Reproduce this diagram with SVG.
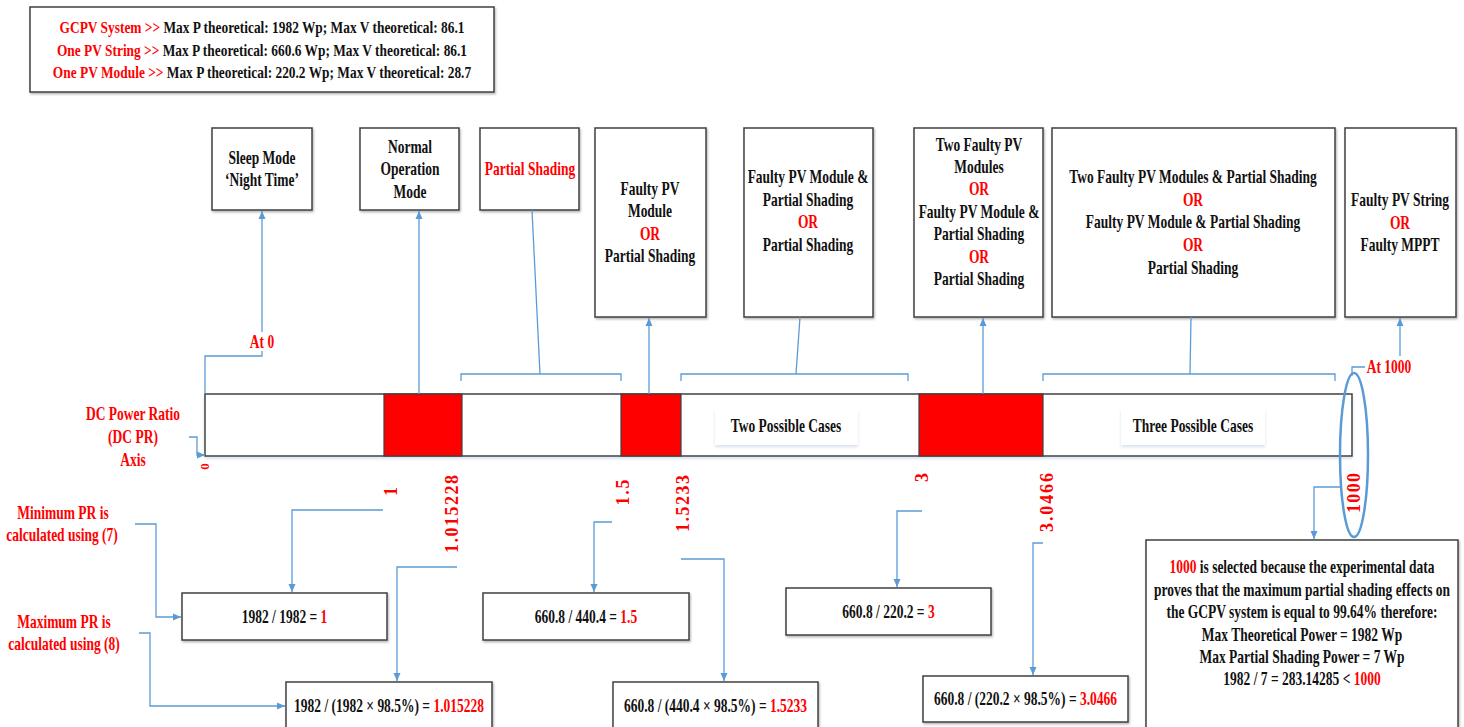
<svg xmlns="http://www.w3.org/2000/svg" width="1464" height="727" viewBox="0 0 1464 727">
<defs>
<style>
.box{fill:#fff;stroke:#404040;stroke-width:1.5;filter:url(#sh)}
.lbl{fill:#fff;stroke:none;filter:url(#soft)}
.blk{fill:#ff0000;stroke:#404040;stroke-width:1.2}
.t{font-family:"Liberation Serif","Times New Roman",serif;font-weight:bold;font-size:18px;fill:#111;text-anchor:middle}
.s{font-size:17.5px}
.r{fill:#ff0000}
.n{font-family:"Liberation Serif","Times New Roman",serif;font-weight:bold;font-size:18px;fill:#ff0000;text-anchor:middle}
.c{fill:none;stroke:#5B9BD5;stroke-width:1.3}
.a{marker-end:url(#ah)}
</style>
<marker id="ah" markerUnits="userSpaceOnUse" markerWidth="9" markerHeight="8" refX="8" refY="4" orient="auto"><path d="M0,0.5 L8,4 L0,7.5z" fill="#5B9BD5"/></marker>
<filter id="sh" x="-5%" y="-5%" width="115%" height="130%"><feDropShadow dx="1" dy="1.5" stdDeviation="1" flood-color="#000" flood-opacity="0.3"/></filter>
<filter id="soft" x="-10%" y="-20%" width="120%" height="160%"><feDropShadow dx="0" dy="2" stdDeviation="1.5" flood-color="#8ea9c8" flood-opacity="0.35"/></filter>
</defs>

<!-- system ratings -->
<g id="ratings">
<rect class="box" x="30" y="7" width="464" height="85"/>
<text class="t s" transform="matrix(0.765 0 0 1 262 0)" y="33.5"><tspan class="r">GCPV System &gt;&gt;</tspan> Max P theoretical: 1982 Wp; Max V theoretical: 86.1</text>
<text class="t s" transform="matrix(0.765 0 0 1 262 0)" y="56"><tspan class="r">One PV String &gt;&gt;</tspan> Max P theoretical: 660.6 Wp; Max V theoretical: 86.1</text>
<text class="t s" transform="matrix(0.765 0 0 1 262 0)" y="78.5"><tspan class="r">One PV Module &gt;&gt;</tspan> Max P theoretical: 220.2 Wp; Max V theoretical: 28.7</text>
</g>

<!-- operating states -->
<g id="sleep">
<rect class="box" x="212" y="128" width="100" height="82"/>
<text class="t" transform="matrix(0.75 0 0 1 262 0)" y="164">Sleep Mode</text>
<text class="t" transform="matrix(0.75 0 0 1 262 0)" y="186.5">‘Night Time’</text>
</g>
<g id="normal">
<rect class="box" x="360" y="128" width="99" height="82"/>
<text class="t" transform="matrix(0.75 0 0 1 410 0)" y="153">Normal</text>
<text class="t" transform="matrix(0.75 0 0 1 410 0)" y="175.5">Operation</text>
<text class="t" transform="matrix(0.75 0 0 1 410 0)" y="198">Mode</text>
</g>
<g id="partial">
<rect class="box" x="480" y="128" width="99" height="82"/>
<text class="t r" transform="matrix(0.75 0 0 1 530 0)" y="175.5">Partial Shading</text>
</g>
<g id="faulty-module">
<rect class="box" x="595" y="128" width="111" height="189"/>
<text class="t" transform="matrix(0.75 0 0 1 650 0)" y="195">Faulty PV</text>
<text class="t" transform="matrix(0.75 0 0 1 650 0)" y="217.5">Module</text>
<text class="t r" transform="matrix(0.75 0 0 1 650 0)" y="240">OR</text>
<text class="t" transform="matrix(0.75 0 0 1 650 0)" y="262.5">Partial Shading</text>
</g>
<g id="module-and-shading">
<rect class="box" x="744" y="128" width="129" height="189"/>
<text class="t" transform="matrix(0.75 0 0 1 808 0)" y="183">Faulty PV Module &amp;</text>
<text class="t" transform="matrix(0.75 0 0 1 808 0)" y="206">Partial Shading</text>
<text class="t r" transform="matrix(0.75 0 0 1 808 0)" y="228.5">OR</text>
<text class="t" transform="matrix(0.75 0 0 1 808 0)" y="251">Partial Shading</text>
</g>
<g id="two-modules">
<rect class="box" x="914" y="128" width="129" height="189"/>
<text class="t" transform="matrix(0.75 0 0 1 979 0)" y="151">Two Faulty PV</text>
<text class="t" transform="matrix(0.75 0 0 1 979 0)" y="173">Modules</text>
<text class="t r" transform="matrix(0.75 0 0 1 979 0)" y="195.5">OR</text>
<text class="t" transform="matrix(0.75 0 0 1 979 0)" y="218">Faulty PV Module &amp;</text>
<text class="t" transform="matrix(0.75 0 0 1 979 0)" y="240.5">Partial Shading</text>
<text class="t r" transform="matrix(0.75 0 0 1 979 0)" y="263">OR</text>
<text class="t" transform="matrix(0.75 0 0 1 979 0)" y="285.5">Partial Shading</text>
</g>
<g id="three-cases">
<rect class="box" x="1052" y="128" width="283" height="189"/>
<text class="t" transform="matrix(0.75 0 0 1 1193 0)" y="183">Two Faulty PV Modules &amp; Partial Shading</text>
<text class="t r" transform="matrix(0.75 0 0 1 1193 0)" y="206">OR</text>
<text class="t" transform="matrix(0.75 0 0 1 1193 0)" y="228.5">Faulty PV Module &amp; Partial Shading</text>
<text class="t r" transform="matrix(0.75 0 0 1 1193 0)" y="251.5">OR</text>
<text class="t" transform="matrix(0.75 0 0 1 1193 0)" y="274">Partial Shading</text>
</g>
<g id="string-mppt">
<rect class="box" x="1345" y="128" width="111" height="189"/>
<text class="t" transform="matrix(0.75 0 0 1 1400 0)" y="206">Faulty PV String</text>
<text class="t r" transform="matrix(0.75 0 0 1 1400 0)" y="229">OR</text>
<text class="t" transform="matrix(0.75 0 0 1 1400 0)" y="251.5">Faulty MPPT</text>
</g>

<!-- DC power ratio axis -->
<g id="axis">
<rect x="205" y="394" width="1147" height="62" fill="#fff" stroke="#404040" stroke-width="1.5" filter="url(#soft)"/>
<rect class="blk" x="384" y="394" width="78" height="62"/>
<rect class="blk" x="621" y="394" width="60" height="62"/>
<rect class="blk" x="919" y="394" width="124" height="62"/>
<rect class="lbl" x="715" y="409" width="143" height="36"/>
<text class="t" transform="matrix(0.75 0 0 1 786 0)" y="432">Two Possible Cases</text>
<rect class="lbl" x="1121" y="409" width="144" height="36"/>
<text class="t" transform="matrix(0.75 0 0 1 1193 0)" y="432">Three Possible Cases</text>
<ellipse cx="1354" cy="455" rx="14" ry="82" fill="none" stroke="#5B9BD5" stroke-width="2.5"/>
</g>
<g id="axis-title">
<text class="t r" transform="matrix(0.75 0 0 1 133 0)" y="420">DC Power Ratio</text>
<text class="t r" transform="matrix(0.75 0 0 1 133 0)" y="443">(DC PR)</text>
<text class="t r" transform="matrix(0.75 0 0 1 133 0)" y="466">Axis</text>
</g>
<g id="labels">
<text class="t r" transform="matrix(0.75 0 0 1 262 0)" y="348">At 0</text>
<text class="t r" transform="matrix(0.75 0 0 1 1389 0)" y="373">At 1000</text>
</g>

<!-- ratio values along the axis -->
<g id="ticks">
<text class="n" style="font-size:13px" transform="translate(209 466.5) rotate(-90)">0</text>
<text class="n" transform="translate(396.5 491.5) rotate(-90)">1</text>
<text class="n" transform="translate(457.5 514) rotate(-90)" textLength="78" lengthAdjust="spacing">1.015228</text>
<text class="n" transform="translate(628.5 492.5) rotate(-90)" textLength="26" lengthAdjust="spacing">1.5</text>
<text class="n" transform="translate(688.5 503.5) rotate(-90)" textLength="57" lengthAdjust="spacing">1.5233</text>
<text class="n" transform="translate(927.5 477.5) rotate(-90)">3</text>
<text class="n" transform="translate(1052.5 502.5) rotate(-90)" textLength="59" lengthAdjust="spacing">3.0466</text>
<text class="n" transform="translate(1359.5 493) rotate(-90)" textLength="40" lengthAdjust="spacing">1000</text>
</g>

<!-- equation notes -->
<g id="min-note">
<text class="t r" transform="matrix(0.75 0 0 1 63 0)" y="519">Minimum PR is</text>
<text class="t r" transform="matrix(0.75 0 0 1 62 0)" y="541">calculated using (7)</text>
</g>
<g id="max-note">
<text class="t r" transform="matrix(0.75 0 0 1 64 0)" y="628">Maximum PR is</text>
<text class="t r" transform="matrix(0.75 0 0 1 64 0)" y="650">calculated using (8)</text>
</g>

<!-- ratio calculations -->
<g id="calc-1">
<rect class="box" x="182" y="593" width="205" height="47"/>
<text class="t" transform="matrix(0.75 0 0 1 284.5 0)" y="623">1982 / 1982 = <tspan class="r">1</tspan></text>
</g>
<g id="calc-1015228">
<rect class="box" x="286" y="682" width="206" height="52"/>
<text class="t" transform="matrix(0.75 0 0 1 389 0)" y="712">1982 / (1982 × 98.5%)  = <tspan class="r">1.015228</tspan></text>
</g>
<g id="calc-15">
<rect class="box" x="483" y="593" width="206" height="47"/>
<text class="t" transform="matrix(0.75 0 0 1 586 0)" y="623">660.8 / 440.4  = <tspan class="r">1.5</tspan></text>
</g>
<g id="calc-15233">
<rect class="box" x="613" y="682" width="205" height="52"/>
<text class="t" transform="matrix(0.75 0 0 1 715.5 0)" y="712">660.8 / (440.4 × 98.5%)  = <tspan class="r">1.5233</tspan></text>
</g>
<g id="calc-3">
<rect class="box" x="786" y="588" width="205" height="47"/>
<text class="t" transform="matrix(0.75 0 0 1 888.5 0)" y="618">660.8 / 220.2  = <tspan class="r">3</tspan></text>
</g>
<g id="calc-30466">
<rect class="box" x="923" y="676" width="205" height="46"/>
<text class="t" transform="matrix(0.75 0 0 1 1025.5 0)" y="705">660.8 / (220.2 × 98.5%)  = <tspan class="r">3.0466</tspan></text>
</g>
<g id="calc-1000">
<rect class="box" x="1146" y="540" width="312" height="195"/>
<text class="t" transform="matrix(0.75 0 0 1 1302 0)" y="573"><tspan class="r">1000</tspan> is selected because the experimental data</text>
<text class="t" transform="matrix(0.75 0 0 1 1302 0)" y="596">proves that the maximum partial shading effects on</text>
<text class="t" transform="matrix(0.75 0 0 1 1302 0)" y="618.5">the GCPV system is equal to 99.64% therefore:</text>
<text class="t" transform="matrix(0.75 0 0 1 1302 0)" y="641">Max Theoretical Power = 1982 Wp</text>
<text class="t" transform="matrix(0.75 0 0 1 1302 0)" y="663">Max Partial Shading Power = 7 Wp</text>
<text class="t" transform="matrix(0.75 0 0 1 1302 0)" y="685">1982 / 7 = 283.14285 &lt; <tspan class="r">1000</tspan></text>
</g>

<!-- connectors -->
<g id="connectors">
<path class="c a" d="M262,332 V211"/>
<path class="c" d="M262,351 V356 H205 V394"/>
<path class="c a" d="M419,394 V211"/>
<path class="c" d="M461,381 V374 H621 V381 M540,374 L532,210"/>
<path class="c a" d="M649,394 V318"/>
<path class="c" d="M681,381 V374 H908 V381 M796,374 L800,317"/>
<path class="c a" d="M983,394 V318"/>
<path class="c" d="M1043,381 V374 H1335 V381 M1190,374 L1191,317"/>
<path class="c a" d="M1400,356 V318"/>
<path class="c" d="M1352,376 V367 H1365"/>
<path class="c a" d="M189,437 H197 V455 H205"/>
<path class="c a" d="M135,524 H156 V617 H181"/>
<path class="c a" d="M139,633 H150 V706 H285"/>
<path class="c a" d="M383,510 H292 V592"/>
<path class="c a" d="M457,567 H397 V681"/>
<path class="c a" d="M612,522 H594 V592"/>
<path class="c a" d="M681,559 H724 V681"/>
<path class="c a" d="M922,511 H897 V587"/>
<path class="c a" d="M1043,543 H1033 V675"/>
<path class="c a" d="M1340,487 H1314 V539"/>
</g>
</svg>
